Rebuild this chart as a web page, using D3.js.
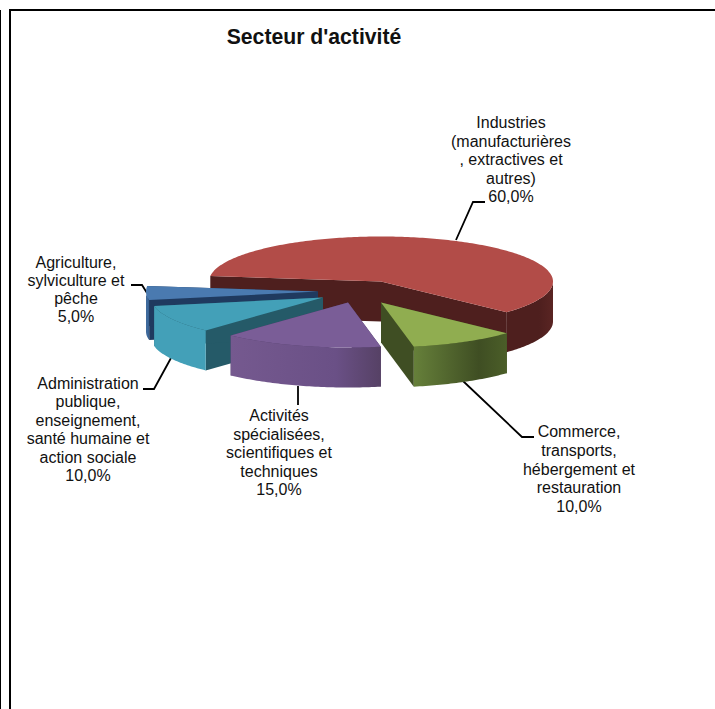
<!DOCTYPE html>
<html lang="fr">
<head>
<meta charset="utf-8">
<title>Secteur d'activité</title>
<script src="https://d3js.org/d3.v7.min.js"></script>
<style>
    html, body { margin: 0; padding: 0; background: #fff; overflow: hidden; }
    svg { display: block; }
    text { font-family: "Liberation Sans", Arial, sans-serif; fill: #111; }
</style>
</head>
<body>
<div id="chart"></div>
<script>
// Data
const categories = [
    "Industries\n(manufacturières\n, extractives et\nautres)",
    "Commerce,\ntransports,\nhébergement et\nrestauration",
    "Activités\nspécialisées,\nscientifiques et\ntechniques",
    "Administration\npublique,\nenseignement,\nsanté humaine et\naction sociale",
    "Agriculture,\nsylviculture et\npêche"
];
const shares = [60, 10, 15, 10, 5];

// Layout, one entry per slice, same order as above
const explode = [[0, 0], [0, 21], [-33, 21], [-58, 16], [-63, 10]];
const labelPos = [[511, 128, 18.5], [579, 437, 18.75], [279, 421, 18.5], [88, 389, 18.4], [76, 268, 18]];
const leaders = [
    [[456, 240], [473, 202], [485, 202]],
    [[463, 381], [522, 437], [534, 437]],
    [[298, 386], [298, 405]],
    [[171, 358], [154, 389], [143, 389]],
    [[147, 293], [142, 285], [131, 285]]
];
const topColors = ["#b24c48", "#90ad50", "#7a5d97", "#43a0b8", "#4a7ab0"];
const wallColors = ["#4e1f1e", "#3f4e23", "#4a3860", "#255a68", "#1f3a5f"];
const arcStops = [
    ["#4e1f1e", "#4e1f1e", "#5a2523"],
    ["#66803a", "#3f4e23", "#4b5e28"],
    ["#75598f", "#6a5086", "#564165"],
    ["#43a0b8", "#43a0b8", "#43a0b8"],
    ["#3f6a9c", "#3f6a9c", "#2f5480"]
];
const drawOrder = [0, 4, 3, 2, 1]; // back to front

const width = 715, height = 709;
const centerX = 381, centerY = 281.5;
const depth = 40;
const firstAngle = 277; // degrees, d3.pie zero is at twelve o'clock

const fmt = d3.formatLocale({ decimal: ",", thousands: " ", grouping: [3], currency: ["", "€"] }).format(".1f");

const x = d3.scaleLinear().domain([-1, 1]).range([-172, 172]);
const y = d3.scaleLinear().domain([-1, 1]).range([-45, 45]);

const pie = d3.pie()
    .sort(null)
    .startAngle(firstAngle * Math.PI / 180)
    .endAngle((firstAngle + 360) * Math.PI / 180);

const slices = pie(shares);
const line = d3.line();

// point on the rim for a pie angle
function rim(a, off, drop) {
    return [centerX + off[0] + x(Math.sin(a)), centerY + off[1] + y(-Math.cos(a)) + (drop || 0)];
}

function rimPoints(s, off, drop) {
    const n = Math.ceil((s.endAngle - s.startAngle) * 180 / Math.PI);
    return d3.range(n + 1).map(i => rim(s.startAngle + (s.endAngle - s.startAngle) * i / n, off, drop));
}

const svg = d3.select("#chart").append("svg")
    .attr("width", width)
    .attr("height", height);

const defs = svg.append("defs");

// Frame
svg.append("rect").attr("x", 0).attr("y", 0).attr("width", width).attr("height", height).attr("fill", "#fff");
svg.append("line").attr("x1", 0.5).attr("x2", 0.5).attr("y1", 10).attr("y2", height).attr("stroke", "#000");
svg.append("path")
    .attr("d", line([[10, height], [10, 10], [width, 10]]))
    .attr("fill", "none")
    .attr("stroke", "#000")
    .attr("stroke-width", 2);

svg.append("text")
    .attr("x", 314)
    .attr("y", 44)
    .attr("text-anchor", "middle")
    .style("font-size", "21.2px")
    .style("font-weight", "bold")
    .text("Secteur d'activité");

// Leader lines
svg.append("g").selectAll("path")
    .data(leaders)
    .enter().append("path")
    .attr("d", d => line(d))
    .attr("fill", "none")
    .attr("stroke", "#000")
    .attr("stroke-width", 1.8);

drawOrder.forEach(function (i) {
    const s = slices[i];
    const off = explode[i];
    const g = svg.append("g");
    const apex = [centerX + off[0], centerY + off[1]];
    const apexLow = [apex[0], apex[1] + depth];

    // the two flat cut faces
    [s.startAngle, s.endAngle].forEach(function (a) {
        g.append("path")
            .attr("d", line([apex, rim(a, off), rim(a, off, depth), apexLow]) + "Z")
            .attr("fill", wallColors[i]);
    });

    // outer curved face, only the front half shows
    const front = rimPoints(s, off).filter(p => p[1] >= apex[1]);
    if (front.length > 1) {
        const low = front.map(p => [p[0], p[1] + depth]).reverse();
        const gradId = "arc" + i;
        const xs = d3.extent(front, p => p[0]);
        const grad = defs.append("linearGradient")
            .attr("id", gradId)
            .attr("gradientUnits", "userSpaceOnUse")
            .attr("x1", xs[0]).attr("x2", xs[1]).attr("y1", 0).attr("y2", 0);
        grad.selectAll("stop")
            .data(arcStops[i])
            .enter().append("stop")
            .attr("offset", (d, k) => [0, 0.7, 1][k])
            .attr("stop-color", d => d);
        g.append("path")
            .attr("d", line(front.concat(low)) + "Z")
            .attr("fill", "url(#" + gradId + ")");
    }

    // top face
    g.append("path")
        .attr("d", line([apex].concat(rimPoints(s, off))) + "Z")
        .attr("fill", topColors[i]);
});

// Labels
slices.forEach(function (s, i) {
    const pos = labelPos[i];
    const lines = categories[i].split("\n").concat(fmt(shares[i]) + "%");
    const t = svg.append("text")
        .attr("text-anchor", "middle")
        .style("font-size", "16px");
    lines.forEach(function (txt, k) {
        t.append("tspan")
            .attr("x", pos[0])
            .attr("y", pos[1] + k * pos[2])
            .text(txt);
    });
});
</script>
</body>
</html>
